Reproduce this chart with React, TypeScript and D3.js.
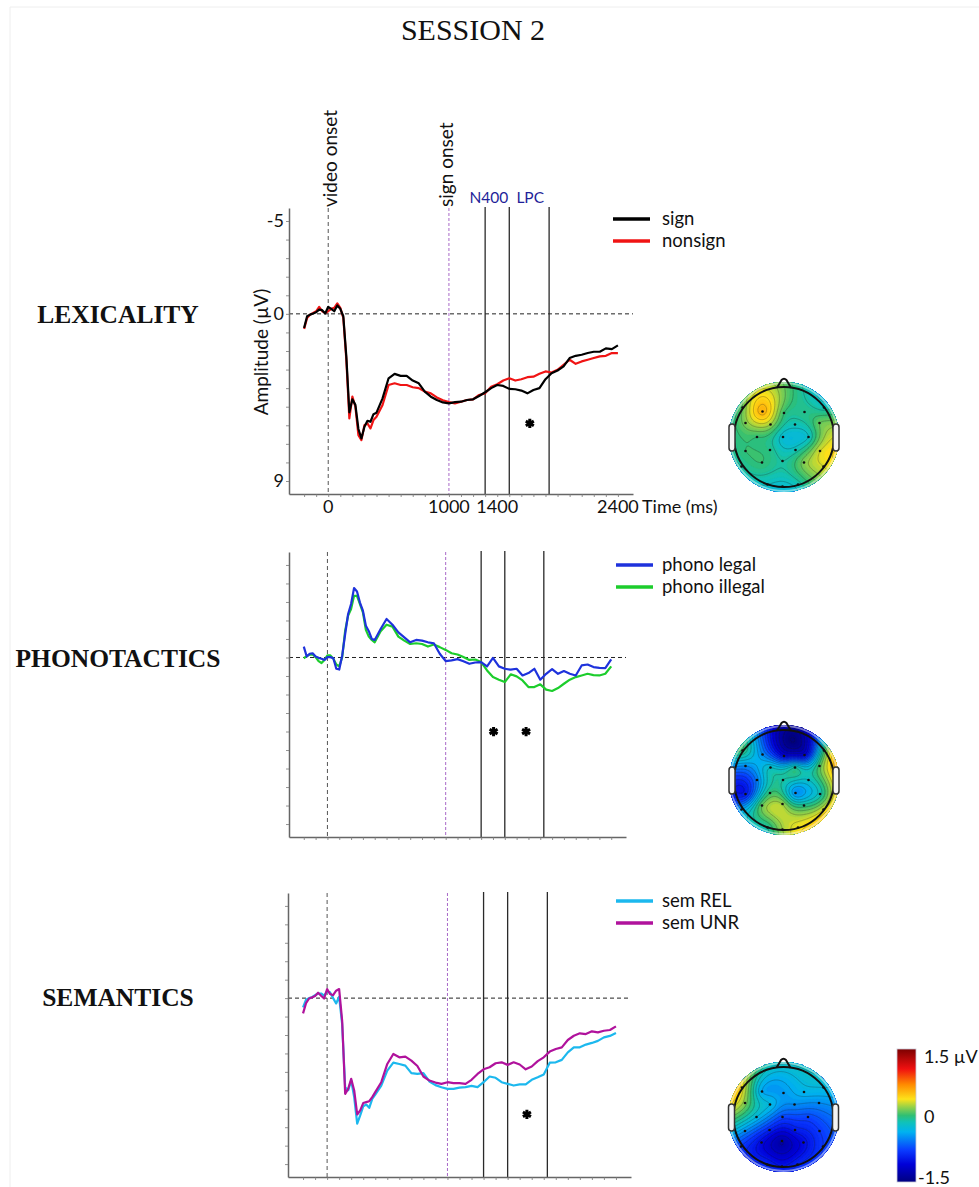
import { useEffect, useRef } from 'react'
import * as d3 from 'd3'

// time grid (ms) shared by every waveform
const times = [
  -200, -175, -150, -125, -100, -75, -50, -25, 0, 25, 50, 75, 100, 125, 150, 175, 200, 225, 250, 275, 300, 325,
  350, 375, 400, 450, 500, 550, 600, 650, 700, 750, 800, 850, 900, 950, 1000, 1050, 1100, 1150, 1200, 1250, 1300,
  1350, 1400, 1450, 1500, 1550, 1600, 1650, 1700, 1750, 1800, 1850, 1900, 1950, 2000, 2050, 2100, 2150, 2200,
  2250, 2300, 2350, 2400,
]

// amplitudes in µV (negative up)
const sign = [
  0.76, 0.13, 0.04, -0.02, -0.09, -0.23, -0.2, -0.02, -0.38, -0.27, -0.14, -0.45, -0.27, 0.13, 2.3, 5.3, 4.6, 4.9,
  6.2, 6.71, 6.08, 5.76, 5.81, 5.4, 5.32, 4.55, 3.47, 3.23, 3.34, 3.34, 3.59, 3.74, 4.19, 4.46, 4.64, 4.77, 4.82,
  4.75, 4.73, 4.64, 4.6, 4.42, 4.22, 4.0, 3.83, 3.88, 4.04, 4.06, 4.13, 4.28, 4.1, 4.0, 3.52, 3.2, 3.05, 2.83,
  2.38, 2.26, 2.2, 2.11, 2.04, 2.04, 1.86, 1.9, 1.7,
]
const nonsign = [
  0.81, 0.22, 0.04, -0.05, -0.14, -0.38, -0.14, -0.05, -0.14, -0.27, -0.32, -0.56, -0.32, 0.22, 2.47, 5.63, 4.46,
  5.0, 6.53, 6.8, 5.99, 5.9, 6.17, 5.72, 5.54, 4.91, 3.83, 3.74, 3.83, 3.83, 3.95, 4.0, 4.19, 4.28, 4.5, 4.65, 4.75,
  4.82, 4.73, 4.64, 4.6, 4.37, 4.28, 3.92, 3.79, 3.59, 3.47, 3.59, 3.52, 3.41, 3.38, 3.23, 3.1, 3.16, 3.01, 2.74,
  2.47, 2.69, 2.56, 2.47, 2.38, 2.29, 2.26, 2.11, 2.11,
]
const phonoLegal = [
  -0.59, -0.05, -0.2, -0.23, -0.05, 0.02, 0.07, 0.13, -0.02, -0.02, 0.04, 0.61, 0.65, -0.11, -1.27, -2.35, -2.89,
  -3.75, -3.57, -2.97, -2.53, -1.72, -1.42, -1.0, -0.95, -1.54, -2.08, -1.77, -1.36, -1.09, -0.82, -0.95, -0.91,
  -0.82, -0.77, -0.2, 0.2, 0.16, 0.09, 0.2, 0.34, 0.27, 0.25, 0.48, 0.02, 0.48, 0.61, 0.66, 0.61, 0.97, 0.84, 0.61,
  1.2, 0.88, 0.63, 0.88, 0.73, 0.88, 0.97, 0.43, 0.38, 0.52, 0.56, 0.57, 0.1,
]
const phonoIllegal = [
  0.04, -0.07, -0.16, -0.16, -0.02, 0.2, 0.3, 0.13, -0.11, -0.11, 0.07, 0.38, 0.48, -0.02, -1.45, -2.26, -2.62,
  -3.33, -3.33, -2.89, -2.44, -1.49, -1.13, -0.95, -0.82, -1.42, -1.77, -1.67, -1.13, -0.91, -0.73, -0.77, -0.73,
  -0.59, -0.7, -0.56, -0.41, -0.23, -0.16, -0.02, 0.13, 0.11, 0.25, 0.7, 1.06, 1.2, 1.33, 0.91, 1.02, 1.24, 1.6,
  1.6, 1.45, 1.74, 1.81, 1.65, 1.42, 1.2, 1.06, 0.97, 0.88, 0.95, 0.97, 0.88, 0.48,
]
const semRel = [
  0.5, 0.09, 0, -0.05, -0.16, -0.25, -0.25, -0.13, -0.36, -0.31, 0, 0.29, -0.07, 1.41, 4.83, 5.0, 4.47, 5.37, 6.81,
  6.36, 5.87, 5.77, 5.95, 5.46, 5.23, 4.74, 3.93, 3.5, 3.57, 3.66, 4.07, 4.11, 4.07, 4.52, 4.72, 4.83, 4.92, 4.92,
  4.85, 4.83, 4.76, 4.83, 4.56, 4.25, 4.32, 4.56, 4.65, 4.74, 4.68, 4.68, 4.43, 4.29, 4.14, 3.5, 3.48, 3.35, 2.94,
  2.67, 2.67, 2.52, 2.43, 2.32, 2.13, 2.05, 1.89,
]
const semUnr = [
  0.83, 0.27, 0.02, -0.04, -0.11, -0.29, -0.13, 0.02, -0.49, -0.22, -0.16, -0.4, -0.49, 1.23, 5.19, 4.92, 4.38,
  5.01, 6.31, 6.09, 5.69, 5.64, 5.59, 5.37, 5.1, 4.56, 3.57, 3.03, 3.21, 3.17, 3.39, 3.68, 4.25, 4.47, 4.58, 4.65,
  4.56, 4.61, 4.61, 4.65, 4.43, 4.11, 3.86, 3.75, 3.53, 3.48, 3.62, 3.48, 3.6, 3.86, 3.71, 3.42, 3.21, 2.9, 2.76,
  2.67, 2.27, 2.04, 1.91, 1.95, 1.8, 1.86, 1.77, 1.73, 1.53,
]

// significance markers: [time, amplitude]
const lexStars = [[1670, 5.9]]
const phonoStars = [[1405, 4.0], [1680, 4.0]]
const semStars = [[1660, 6.3]]

// analysis windows (N400, LPC) edges in ms
const windowEdges = [1300, 1500, 1830]
const xTickLabels = [0, 1000, 1400, 2400]
const yTickLabels = [-5, 0, 9]
const xMinorTicks = [
  -200, -100, 0, 100, 200, 300, 400, 500, 600, 700, 800, 900, 1000, 1100, 1200, 1300, 1400, 1500, 1600, 1700, 1800,
  1900, 2000, 2100, 2200, 2300, 2400,
]
const yMinorTicks = [-5, -4, -3, -2, -1, 0, 1, 2, 3, 4, 5, 6, 7, 8, 9]

// scalp electrodes (head-normalised coordinates) and topographic values in µV
const electrodeNames = [
  'F7', 'F3', 'Fz', 'F4', 'F8', 'FC5', 'FC1', 'FC2', 'FC6', 'C3', 'Cz', 'C4',
  'CP5', 'CP1', 'CP2', 'CP6', 'P7', 'P3', 'Pz', 'P4', 'P8', 'O1', 'Oz', 'O2',
]
const electrodeX = [
  -0.83, -0.43, 0, 0.41, 0.8, -0.77, -0.27, 0.22, 0.71, -0.54, -0.02, 0.49,
  -0.77, -0.28, 0.23, 0.72, -0.85, -0.44, -0.03, 0.4, 0.79, -0.33, -0.03, 0.28,
]
const electrodeY = [
  -0.59, -0.51, -0.48, -0.5, -0.59, -0.28, -0.25, -0.25, -0.28, 0, 0, 0,
  0.28, 0.26, 0.26, 0.28, 0.59, 0.51, 0.48, 0.51, 0.59, 0.95, 0.99, 0.95,
]
const lexTopo = [
  0.1, 0.55, 0.0, -0.05, -0.15, 0.15, 0.2, -0.15, 0.1, 0.0, -0.25, -0.2,
  0.0, -0.05, -0.15, 0.3, -0.1, 0.0, -0.1, 0.15, 0.3, -0.2, -0.25, -0.15,
]
const phonoTopo = [
  0.0, -0.5, -1.05, -1.1, 0.0, -0.5, -0.2, -0.1, 0.05, -0.55, -0.1, -0.2,
  -0.95, 0.0, -0.5, -0.15, -0.4, 0.1, 0.2, -0.05, 0.3, -0.1, 0.2, 0.35,
]
const semTopo = [
  0.35, -0.4, -0.45, -0.35, -0.3, 0.15, -0.3, -0.5, -0.5, -0.3, -0.75, -0.75,
  -0.5, -0.9, -0.95, -0.8, -0.8, -1.05, -1.3, -1.05, -0.8, -0.9, -1.0, -0.9,
]

const colorStops = [-1.5, -1.1, -0.78, -0.37, -0.15, 0.0, 0.2, 0.37, 0.7, 1.05, 1.5]
const colorHex = ['#00007f', '#0000d8', '#0a3cff', '#00b2f0', '#10c2b8', '#2fbf74', '#9ad246', '#fde21a', '#ff8a00', '#f01010', '#7c0000']

// thin-plate spline through the electrode values
function thinPlate(xs: number[], ys: number[], vs: number[]) {
  const n = xs.length
  const m = n + 3
  const phi = (d: number) => (d < 1e-9 ? 0 : d * d * Math.log(d))
  const A: number[][] = []
  for (let i = 0; i < m; i++) A.push(new Array(m + 1).fill(0))
  for (let i = 0; i < n; i++) {
    for (let j = 0; j < n; j++) {
      A[i][j] = phi(Math.hypot(xs[i] - xs[j], ys[i] - ys[j])) + (i === j ? 0.002 : 0)
    }
    A[i][n] = 1
    A[i][n + 1] = xs[i]
    A[i][n + 2] = ys[i]
    A[n][i] = 1
    A[n + 1][i] = xs[i]
    A[n + 2][i] = ys[i]
    A[i][m] = vs[i]
  }
  for (let c = 0; c < m; c++) {
    let piv = c
    for (let r = c + 1; r < m; r++) if (Math.abs(A[r][c]) > Math.abs(A[piv][c])) piv = r
    ;[A[c], A[piv]] = [A[piv], A[c]]
    for (let r = 0; r < m; r++) {
      if (r === c) continue
      const f = A[r][c] / A[c][c]
      for (let k = c; k <= m; k++) A[r][k] -= f * A[c][k]
    }
  }
  const w = A.map((row, i) => row[m] / row[i])
  return (x: number, y: number) => {
    let s = w[n] + w[n + 1] * x + w[n + 2] * y
    for (let i = 0; i < n; i++) s += w[i] * phi(Math.hypot(x - xs[i], y - ys[i]))
    return s
  }
}

export default function App() {
  const svgRef = useRef<SVGSVGElement>(null)

  useEffect(() => {
    if (!svgRef.current) return
    const svg = d3.select(svgRef.current)
    svg.selectAll('*').remove()

    const jet = d3.scaleLinear<string>().domain(colorStops).range(colorHex).clamp(true)
    const sansFont = 'Lato, "Open Sans", sans-serif'
    const serifFont = '"Liberation Serif", "Times New Roman", serif'

    // faint figure frame
    svg.append('line').attr('x1', 10).attr('x2', 10).attr('y1', 7).attr('y2', 1187).attr('stroke', '#eeeeee')
    svg.append('line').attr('x1', 10).attr('x2', 979).attr('y1', 7).attr('y2', 7).attr('stroke', '#eeeeee')

    svg
      .append('text')
      .attr('x', 473)
      .attr('y', 40)
      .attr('text-anchor', 'middle')
      .attr('font-family', serifFont)
      .attr('font-size', '30px')
      .attr('fill', '#111')
      .text('SESSION 2')

    const panels = [
      {
        label: 'LEXICALITY',
        labelY: 323,
        box: { left: 289, right: 633, top: 208, bottom: 494 },
        series: [
          { name: 'sign', values: sign, color: '#000000' },
          { name: 'nonsign', values: nonsign, color: '#f01414' },
        ],
        order: [1, 0],
        legendX: 613,
        legendY: [219, 241],
        stars: lexStars,
        topo: lexTopo,
        head: { cx: 784, cy: 437 },
      },
      {
        label: 'PHONOTACTICS',
        labelY: 667,
        box: { left: 289, right: 626, top: 552, bottom: 837 },
        series: [
          { name: 'phono legal', values: phonoLegal, color: '#1e32dc' },
          { name: 'phono illegal', values: phonoIllegal, color: '#1ccd2c' },
        ],
        order: [1, 0],
        legendX: 616,
        legendY: [565, 587],
        stars: phonoStars,
        topo: phonoTopo,
        head: { cx: 784, cy: 780 },
      },
      {
        label: 'SEMANTICS',
        labelY: 1006,
        box: { left: 288, right: 631, top: 893, bottom: 1177 },
        series: [
          { name: 'sem REL', values: semRel, color: '#1cb8ee' },
          { name: 'sem UNR', values: semUnr, color: '#b0129c' },
        ],
        order: [0, 1],
        legendX: 616,
        legendY: [901, 923],
        stars: semStars,
        topo: semTopo,
        head: { cx: 783.5, cy: 1117 },
      },
    ]

    panels.forEach((p, pi) => {
      const x = d3.scaleLinear().domain([-325, 2525]).range([p.box.left, p.box.right])
      const y = d3.scaleLinear().domain([-5.7, 9.7]).range([p.box.top, p.box.bottom])
      const g = svg.append('g')

      // row label
      svg
        .append('text')
        .attr('x', 118)
        .attr('y', p.labelY)
        .attr('text-anchor', 'middle')
        .attr('font-family', serifFont)
        .attr('font-weight', 'bold')
        .attr('font-size', '25.5px')
        .attr('fill', '#111')
        .text(p.label)

      // zero line
      g.append('line')
        .attr('x1', p.box.left)
        .attr('x2', p.box.right)
        .attr('y1', y(0))
        .attr('y2', y(0))
        .attr('stroke', '#222')
        .attr('stroke-width', 1)
        .attr('stroke-dasharray', '4,3')

      // video onset / sign onset
      g.append('line')
        .attr('x1', x(0))
        .attr('x2', x(0))
        .attr('y1', p.box.top)
        .attr('y2', p.box.bottom)
        .attr('stroke', '#555')
        .attr('stroke-width', 1)
        .attr('stroke-dasharray', '4,3')
      g.append('line')
        .attr('x1', x(1000))
        .attr('x2', x(1000))
        .attr('y1', p.box.top)
        .attr('y2', p.box.bottom)
        .attr('stroke', '#a868c8')
        .attr('stroke-width', 1)
        .attr('stroke-dasharray', '3,2')

      // window edges
      g.selectAll('.win')
        .data(windowEdges)
        .enter()
        .append('line')
        .attr('x1', (d) => x(d))
        .attr('x2', (d) => x(d))
        .attr('y1', p.box.top - 1)
        .attr('y2', p.box.bottom)
        .attr('stroke', '#2a2a2a')
        .attr('stroke-width', 1.3)

      // axes
      const yAxis = g
        .append('g')
        .attr('transform', `translate(${p.box.left},0)`)
        .call(d3.axisLeft(y).tickValues(yMinorTicks).tickSize(3).tickSizeOuter(0).tickFormat(() => ''))
      const xAxis = g
        .append('g')
        .attr('transform', `translate(0,${p.box.bottom})`)
        .call(d3.axisBottom(x).tickValues(xMinorTicks).tickSize(3).tickSizeOuter(0).tickFormat(() => ''))
      ;[yAxis, xAxis].forEach((a) => {
        a.select('.domain').attr('stroke', '#666').attr('stroke-width', 1.5)
        a.selectAll('.tick line').attr('stroke', '#777').attr('stroke-width', 0.8)
      })

      // waveforms
      const line = d3
        .line<number>()
        .x((_, i) => x(times[i]))
        .y((d) => y(d))
      p.order.forEach((si) => {
        const s = p.series[si]
        g.append('path')
          .attr('d', line(s.values))
          .attr('fill', 'none')
          .attr('stroke', s.color)
          .attr('stroke-width', 2.2)
          .attr('stroke-linejoin', 'round')
      })

      // significance stars
      g.selectAll('.star')
        .data(p.stars)
        .enter()
        .append('path')
        .attr('d', d3.symbol(d3.symbolAsterisk, 60)())
        .attr('transform', (d) => `translate(${x(d[0])},${y(d[1])})`)
        .attr('fill', 'none')
        .attr('stroke', '#000')
        .attr('stroke-width', 3)

      // legend
      p.series.forEach((s, i) => {
        g.append('line')
          .attr('x1', p.legendX)
          .attr('x2', p.legendX + 37)
          .attr('y1', p.legendY[i])
          .attr('y2', p.legendY[i])
          .attr('stroke', s.color)
          .attr('stroke-width', 3.5)
        g.append('text')
          .attr('x', 662)
          .attr('y', p.legendY[i] + 5.5)
          .attr('font-family', sansFont)
          .attr('font-size', '18.5px')
          .attr('fill', '#111')
          .text(s.name)
      })

      if (pi === 0) {
        // tick labels
        g.selectAll('.ylab')
          .data(yTickLabels)
          .enter()
          .append('text')
          .attr('x', p.box.left - 5)
          .attr('y', (d) => y(d))
          .attr('dy', '0.35em')
          .attr('text-anchor', 'end')
          .attr('font-family', sansFont)
          .attr('font-size', '18px')
          .attr('fill', '#111')
          .text((d) => String(d))
        g.selectAll('.xlab')
          .data(xTickLabels)
          .enter()
          .append('text')
          .attr('x', (d) => x(d))
          .attr('y', p.box.bottom + 19)
          .attr('text-anchor', 'middle')
          .attr('font-family', sansFont)
          .attr('font-size', '18px')
          .attr('fill', '#111')
          .text((d) => String(d))
        g.append('text')
          .attr('x', p.box.right + 9)
          .attr('y', p.box.bottom + 19)
          .attr('font-family', sansFont)
          .attr('font-size', '18px')
          .attr('fill', '#111')
          .text('Time (ms)')
        g.append('text')
          .attr('transform', `translate(260,${(p.box.top + p.box.bottom) / 2 + 1}) rotate(-90)`)
          .attr('text-anchor', 'middle')
          .attr('dominant-baseline', 'central')
          .attr('font-family', sansFont)
          .attr('font-size', '19px')
          .attr('fill', '#111')
          .text('Amplitude (µV)')
        g.append('text')
          .attr('transform', `translate(${x(0) + 8.5},${p.box.top - 1}) rotate(-90)`)
          .attr('font-family', sansFont)
          .attr('font-size', '19px')
          .attr('fill', '#111')
          .text('video onset')
        g.append('text')
          .attr('transform', `translate(${x(1000) + 4},${p.box.top - 1}) rotate(-90)`)
          .attr('font-family', sansFont)
          .attr('font-size', '19px')
          .attr('fill', '#111')
          .text('sign onset')
        g.append('text')
          .attr('x', x(windowEdges[1]) - 1)
          .attr('y', p.box.top - 5)
          .attr('text-anchor', 'end')
          .attr('font-family', sansFont)
          .attr('font-size', '15.5px')
          .attr('fill', '#1f1f99')
          .text('N400')
        g.append('text')
          .attr('x', x((windowEdges[1] + windowEdges[2]) / 2) + 1)
          .attr('y', p.box.top - 5)
          .attr('text-anchor', 'middle')
          .attr('font-family', sansFont)
          .attr('font-size', '15.5px')
          .attr('fill', '#1f1f99')
          .text('LPC')
      }

      // topographic map
      const r = 50
      const { cx, cy } = p.head
      const n = 80
      const ext = 1.12
      const surface = thinPlate(electrodeX, electrodeY, p.topo)
      const grid = new Array(n * n)
      for (let j = 0; j < n; j++) {
        for (let i = 0; i < n; i++) {
          const gx = -ext + (2 * ext * (i + 0.5)) / n
          const gy = -ext + (2 * ext * (j + 0.5)) / n
          grid[j * n + i] = Math.max(-1.58, Math.min(1.58, surface(gx, gy)))
        }
      }
      const proj = d3.geoIdentity().scale((2 * ext * r) / n).translate([cx - ext * r, cy - ext * r])
      const geo = d3.geoPath(proj)
      const clipId = `head-clip-${pi}`
      svg.append('clipPath').attr('id', clipId).append('circle').attr('cx', cx).attr('cy', cy).attr('r', r * 1.1)

      const topoG = svg.append('g').attr('clip-path', `url(#${clipId})`)
      const fillLevels = d3.range(-1.6, 1.65, 0.04)
      const filled = d3.contours().size([n, n]).thresholds(fillLevels)(grid)
      topoG
        .selectAll('.fill')
        .data(filled)
        .enter()
        .append('path')
        .attr('d', (d) => geo(d as any))
        .attr('fill', (d) => jet(d.value + 0.02))
        .attr('stroke', (d) => jet(d.value + 0.02))
        .attr('stroke-width', 0.3)
      const lineLevels = d3.range(-1.5, 1.51, 0.1)
      const iso = d3.contours().size([n, n]).thresholds(lineLevels)(grid)
      topoG
        .selectAll('.iso')
        .data(iso)
        .enter()
        .append('path')
        .attr('d', (d) => geo(d as any))
        .attr('fill', 'none')
        .attr('stroke', '#1a1a1a')
        .attr('stroke-opacity', 0.5)
        .attr('stroke-width', 0.5)
      // soft rim
      topoG
        .append('circle')
        .attr('cx', cx)
        .attr('cy', cy)
        .attr('r', r * 1.1 - 1)
        .attr('fill', 'none')
        .attr('stroke', '#ffffff')
        .attr('stroke-opacity', 0.45)
        .attr('stroke-width', 2)

      const headG = svg.append('g').attr('fill', 'none').attr('stroke', '#111').attr('stroke-width', 2)
      headG.append('circle').attr('cx', cx).attr('cy', cy).attr('r', r)
      headG
        .append('path')
        .attr(
          'd',
          `M${cx - 7},${cy - r + 0.8} L${cx - 2.5},${cy - r - 7} Q${cx},${cy - r - 9.5} ${cx + 2.5},${cy - r - 7} L${cx + 7},${cy - r + 0.8}`
        )
      ;[-1, 1].forEach((side) => {
        headG
          .append('rect')
          .attr('x', side < 0 ? cx - r - 5 : cx + r - 1)
          .attr('y', cy - 13)
          .attr('width', 6)
          .attr('height', 27)
          .attr('rx', 3)
          .attr('fill', '#f4f4f4')
          .attr('stroke', '#333')
          .attr('stroke-width', 1.5)
      })
      svg
        .append('g')
        .selectAll('circle')
        .data(electrodeNames)
        .enter()
        .append('circle')
        .attr('cx', (_, k) => cx + electrodeX[k] * r)
        .attr('cy', (_, k) => cy + electrodeY[k] * r)
        .attr('r', 1.3)
        .attr('fill', '#111')
    })

    // colour bar
    const defs = svg.append('defs')
    const grad = defs
      .append('linearGradient')
      .attr('id', 'jet-grad')
      .attr('x1', 0)
      .attr('x2', 0)
      .attr('y1', 1)
      .attr('y2', 0)
    colorStops.forEach((v, i) => {
      grad
        .append('stop')
        .attr('offset', `${((v + 1.5) / 3) * 100}%`)
        .attr('stop-color', colorHex[i])
    })
    const cbScale = d3.scaleLinear().domain([-1.5, 1.5]).range([1182, 1049])
    svg
      .append('rect')
      .attr('x', 897)
      .attr('y', cbScale(1.5))
      .attr('width', 19)
      .attr('height', cbScale(-1.5) - cbScale(1.5))
      .attr('fill', 'url(#jet-grad)')
      .attr('stroke', '#c8c8d8')
      .attr('stroke-width', 0.8)
    const cbLabels = [
      { v: 1.5, t: '1.5 µV', dx: 924 },
      { v: 0, t: '0', dx: 924 },
      { v: -1.5, t: '-1.5', dx: 918 },
    ]
    svg
      .selectAll('.cblab')
      .data(cbLabels)
      .enter()
      .append('text')
      .attr('x', (d) => d.dx)
      .attr('y', (d) => cbScale(d.v) + (d.v === 1.5 ? 14 : d.v === 0 ? 7 : 2))
      .attr('font-family', sansFont)
      .attr('font-size', '18px')
      .attr('fill', '#111')
      .text((d) => d.t)
  }, [])

  return (
    <svg
      ref={svgRef}
      width={979}
      height={1187}
      style={{ position: 'absolute', left: 0, top: 0, background: '#fff' }}
    />
  )
}
